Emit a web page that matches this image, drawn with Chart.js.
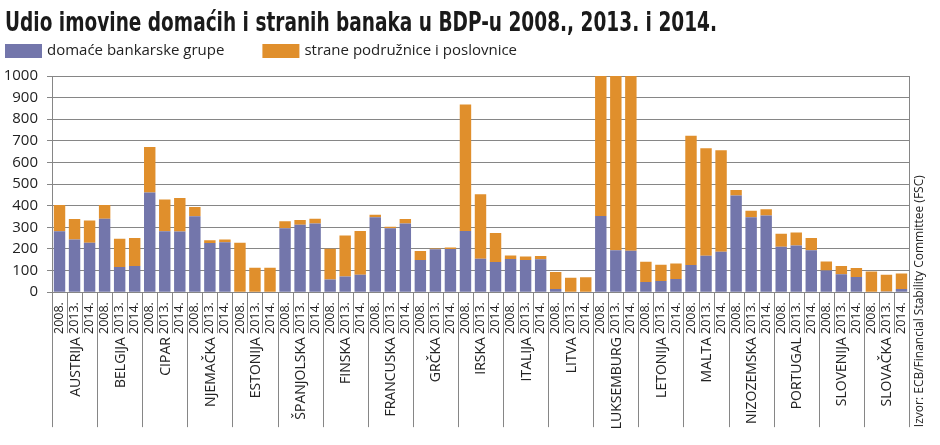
<!DOCTYPE html>
<html>
<head>
<meta charset="utf-8">
<script src="https://cdn.jsdelivr.net/npm/chart.js@4"></script>
<style>
    body { margin: 0; background: #fff; }
    #wrap { width: 940px; height: 445px; position: relative; }
</style>
</head>
<body>
<div id="wrap"><canvas id="udio_chart"></canvas></div>
<script>
var countries = ['AUSTRIJA', 'BELGIJA', 'CIPAR', 'NJEMAČKA', 'ESTONIJA', 'ŠPANJOLSKA', 'FINSKA', 'FRANCUSKA', 'GRČKA', 'IRSKA', 'ITALIJA', 'LITVA', 'LUKSEMBURG', 'LETONIJA', 'MALTA', 'NIZOZEMSKA', 'PORTUGAL', 'SLOVENIJA', 'SLOVAČKA'];
var years = ['2008.', '2013.', '2014.'];

// domaće bankarske grupe, 3 godine po zemlji
var domestic = [
    282, 243, 228,
    340, 116, 121,
    461, 282, 280,
    351, 227, 231,
    0, 0, 0,
    296, 312, 318,
    58, 72, 80,
    346, 296, 317,
    149, 198, 199,
    283, 155, 139,
    153, 149, 152,
    14, 2, 2,
    352, 194, 191,
    47, 51, 61,
    126, 168, 187,
    447, 346, 355,
    210, 216, 194,
    100, 83, 70,
    0, 3, 14
];

// strane podružnice i poslovnice
var foreign = [
    121, 95, 103,
    63, 131, 129,
    210, 147, 155,
    43, 13, 12,
    228, 113, 113,
    32, 22, 22,
    143, 190, 203,
    12, 7, 21,
    41, 4, 8,
    585, 298, 135,
    17, 16, 15,
    79, 64, 67,
    1400, 1300, 1350,
    94, 76, 71,
    597, 498, 470,
    25, 31, 29,
    60, 60, 56,
    42, 38, 42,
    96, 77, 72
];

var title_text = 'Udio imovine domaćih i stranih banaka u BDP-u 2008., 2013. i 2014.';
var source_text = 'Izvor: ECB/Financial Stability Committee (FSC)';

document.addEventListener('DOMContentLoaded', function() {
    'use strict';

    var labels = [];
    countries.forEach(function() {
        years.forEach(function(y) {
            labels.push(y);
        });
    });

    var font_main = '"Open Sans", "Noto Sans", sans-serif';
    var font_title = '"Liberation Sans Narrow", "DejaVu Sans Condensed", sans-serif';
    var line_color = '#868686';
    var text_color = '#222';

    // naslov i legenda
    var header = {
        id: 'header',
        afterDraw: function(chart) {
            var ctx = chart.ctx;
            ctx.save();
            ctx.fillStyle = '#1a1a1a';
            ctx.font = 'bold 26px ' + font_title;
            ctx.textAlign = 'left';
            ctx.textBaseline = 'alphabetic';
            ctx.fillText(title_text, 5, 31, 712);

            ctx.font = '15px ' + font_main;
            ctx.textBaseline = 'middle';
            var lx = 5;
            chart.data.datasets.forEach(function(ds) {
                ctx.fillStyle = ds.backgroundColor;
                ctx.fillRect(lx, 44, 37, 14);
                ctx.fillStyle = text_color;
                ctx.fillText(ds.label, lx + 42, 51);
                lx += 42 + ctx.measureText(ds.label).width + 38;
            });
            ctx.restore();
        }
    };

    var below_axis = {
        id: 'below_axis',
        afterDraw: function(chart) {
            var ctx = chart.ctx;
            var x = chart.scales.x;
            var area = chart.chartArea;
            var step = x.getPixelForValue(1) - x.getPixelForValue(0);
            ctx.save();
            ctx.strokeStyle = line_color;
            ctx.lineWidth = 1;
            for (var i = 0; i <= labels.length; i++) {
                var bx = Math.round(x.getPixelForValue(i) - step / 2) + 0.5;
                var long = (i % 3 === 0);
                ctx.beginPath();
                ctx.moveTo(bx, (i === labels.length) ? area.top : area.bottom);
                ctx.lineTo(bx, area.bottom + (long ? 135 : 41));
                ctx.stroke();
            }
            ctx.fillStyle = text_color;
            ctx.font = '14px ' + font_main;
            ctx.textAlign = 'right';
            ctx.textBaseline = 'middle';
            countries.forEach(function(name, g) {
                var cx = x.getPixelForValue(g * 3 + 1) + 1;
                ctx.save();
                ctx.translate(cx, area.bottom + 45);
                ctx.rotate(-Math.PI / 2);
                ctx.fillText(name, 0, 0);
                ctx.restore();
            });
            ctx.font = '12px ' + font_main;
            ctx.textAlign = 'left';
            ctx.save();
            ctx.translate(chart.width - 20, area.bottom + 135);
            ctx.rotate(-Math.PI / 2);
            ctx.fillText(source_text, 0, 0);
            ctx.restore();
            ctx.restore();
        }
    };

    new Chart(document.getElementById('udio_chart').getContext('2d'), {
        type: 'bar',
        data: {
            labels: labels,
            datasets: [{
                label: 'domaće bankarske grupe',
                data: domestic,
                backgroundColor: '#7376ab',
                barPercentage: 0.76,
                categoryPercentage: 1
            }, {
                label: 'strane podružnice i poslovnice',
                data: foreign,
                backgroundColor: '#e08f2c',
                barPercentage: 0.76,
                categoryPercentage: 1
            }]
        },
        options: {
            responsive: true,
            maintainAspectRatio: false,
            animation: false,
            layout: {
                padding: { left: 4, right: 31, top: 76, bottom: 109 }
            },
            plugins: {
                title: { display: false },
                legend: { display: false },
                tooltip: { enabled: false }
            },
            scales: {
                x: {
                    stacked: true,
                    grid: { display: false },
                    border: { display: false },
                    ticks: {
                        autoSkip: false,
                        maxRotation: 90,
                        minRotation: 90,
                        padding: 2,
                        color: text_color,
                        font: { family: font_main, size: 12.5 }
                    }
                },
                y: {
                    stacked: true,
                    min: 0,
                    max: 1000,
                    afterFit: function(scale) {
                        scale.width = 48;
                    },
                    grid: { color: line_color, tickLength: 5 },
                    border: { color: line_color },
                    ticks: {
                        stepSize: 100,
                        autoSkip: false,
                        padding: 9,
                        color: text_color,
                        font: { family: font_main, size: 15 },
                        callback: function(value) {
                            return String(value);
                        }
                    }
                }
            }
        },
        plugins: [header, below_axis]
    });
});
</script>
</body>
</html>
